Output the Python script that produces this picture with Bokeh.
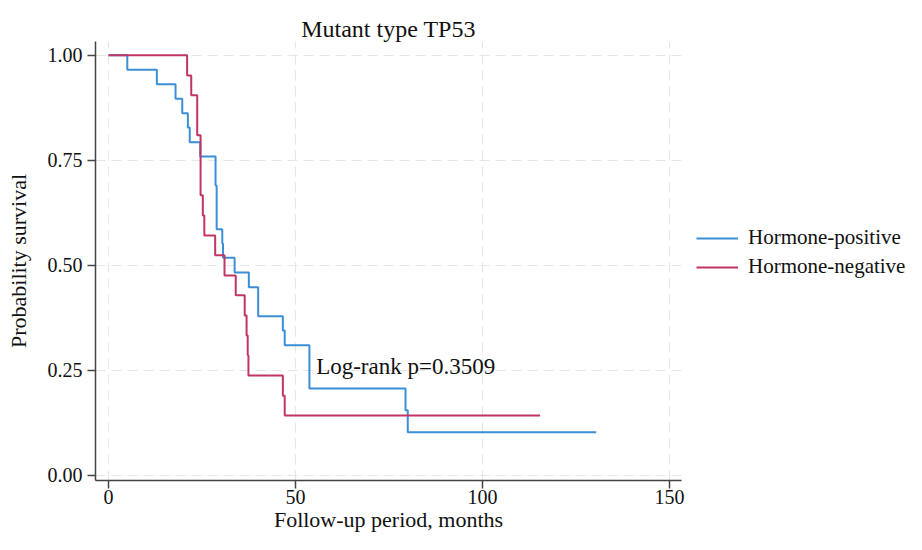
from bokeh.plotting import figure
from bokeh.layouts import row
from bokeh.models import Legend, LegendItem, FixedTicker, PrintfTickFormatter
from bokeh.core.properties import value
from bokeh.embed import file_html
from bokeh.resources import INLINE

# Kaplan-Meier estimates (time in months, survival probability)
pos_time = [0, 5.0, 12.9, 17.9, 19.7, 21.2, 21.7, 24.5, 28.6, 28.9, 30.4, 30.6, 33.7, 37.5, 40.0, 46.6, 47.1, 53.7, 79.4, 80.0, 130.4]
pos_surv = [1.0, 0.966, 0.931, 0.897, 0.862, 0.828, 0.793, 0.759, 0.690, 0.586, 0.552, 0.518, 0.483, 0.448, 0.379, 0.345, 0.310, 0.207, 0.155, 0.103, 0.103]

neg_time = [0, 21.0, 22.1, 23.7, 24.6, 25.2, 25.6, 28.5, 31.0, 34.0, 36.4, 36.9, 37.2, 37.4, 46.6, 47.1, 115.4]
neg_surv = [1.0, 0.952, 0.905, 0.810, 0.667, 0.619, 0.571, 0.524, 0.476, 0.429, 0.381, 0.333, 0.286, 0.238, 0.190, 0.143, 0.143]

series_names = ["Hormone-positive", "Hormone-negative"]
x_ticks = [0, 50, 100, 150]
y_ticks = [0, 0.25, 0.5, 0.75, 1.0]
pvalue_text = "Log-rank p=0.3509"

BLUE = "#3b8fd6"
RED = "#c23466"
FONT = "Liberation Serif"
TXT = "#111111"

H = 534
p = figure(
    width=686, height=H,
    x_range=(-3.5, 153.2), y_range=(-0.012, 1.033),
    output_backend="svg", toolbar_location=None,
    min_border_left=95, min_border_right=5, min_border_top=41, min_border_bottom=54,
)
p.outline_line_color = None
p.background_fill_color = "white"
p.border_fill_color = "white"

p.title.text = "Mutant type TP53"
p.title.align = "center"
p.title.text_font = FONT
p.title.text_font_size = "24px"
p.title.text_font_style = "normal"
p.title.text_color = TXT
p.title.standoff = 0

for ax in (p.xaxis[0], p.yaxis[0]):
    ax.axis_line_color = "#444444"
    ax.axis_line_width = 1.5
    ax.major_tick_line_color = "#444444"
    ax.major_tick_line_width = 1.5
    ax.major_tick_out = 8
    ax.major_tick_in = 0
    ax.minor_tick_line_color = None
    ax.major_label_text_font = FONT
    ax.major_label_text_font_size = "20px"
    ax.major_label_text_color = TXT
    ax.axis_label_text_font = FONT
    ax.axis_label_text_font_size = "22px"
    ax.axis_label_text_font_style = "normal"
    ax.axis_label_text_color = TXT

p.xaxis.ticker = FixedTicker(ticks=x_ticks)
p.yaxis.ticker = FixedTicker(ticks=y_ticks)
p.yaxis.formatter = PrintfTickFormatter(format="%.2f")
p.yaxis.major_label_orientation = 0
p.xaxis.axis_label = "Follow-up period, months"
p.yaxis.axis_label = "Probability survival"
p.xaxis.major_label_standoff = 1
p.xaxis.axis_label_standoff = 0
p.yaxis.major_label_standoff = 5
p.yaxis.axis_label_standoff = 14

p.xgrid.grid_line_color = "#e6e6e6"
p.ygrid.grid_line_color = "#e6e6e6"
p.xgrid.grid_line_dash = "10 6"
p.ygrid.grid_line_dash = "10 6"
p.xgrid.grid_line_width = 1.2
p.ygrid.grid_line_width = 1.2

p.step(pos_time, pos_surv, mode="after", line_color=BLUE, line_width=2)
p.step(neg_time, neg_surv, mode="after", line_color=RED, line_width=2)

p.text(x=[55.5], y=[0.26], text=[pvalue_text], text_font=value(FONT),
       text_font_size="23px", text_baseline="alphabetic", text_align="left", text_color=TXT)

# legend panel to the right of the plot
q = figure(width=220, height=H, output_backend="svg", toolbar_location=None,
           x_axis_type=None, y_axis_type=None, min_border=0,
           x_range=(0, 1), y_range=(0, 1))
q.outline_line_color = None
q.grid.visible = False
q.border_fill_color = "white"
q_pos = q.line(pos_time, pos_surv, line_color=BLUE, line_width=2, visible=False)
q_neg = q.line(neg_time, neg_surv, line_color=RED, line_width=2, visible=False)

legend = Legend(
    items=[LegendItem(label=series_names[0], renderers=[q_pos]),
           LegendItem(label=series_names[1], renderers=[q_neg])],
    location=(10, 201),
    border_line_color=None,
    background_fill_alpha=0,
    label_text_font=FONT,
    label_text_font_size="21px",
    label_text_color=TXT,
    label_standoff=10,
    glyph_width=42,
    spacing=4,
    margin=0,
    padding=0,
)
q.add_layout(legend, "center")

layout = row(p, q, spacing=0)
open("out.html", "w").write(file_html(layout, INLINE))
